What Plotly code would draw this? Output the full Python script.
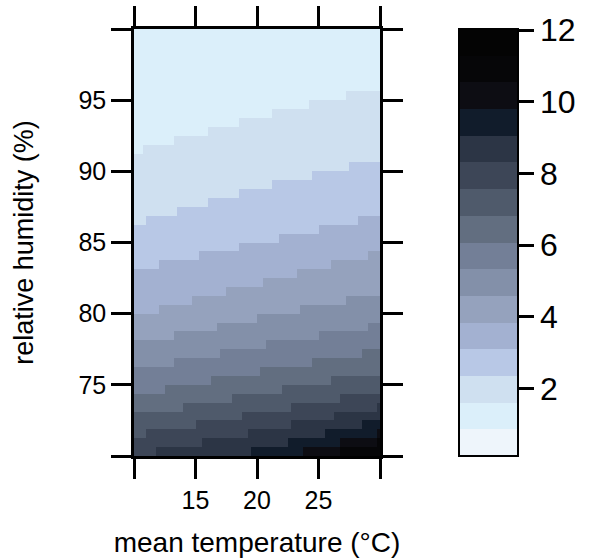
import numpy as np
import plotly.graph_objects as go

# ---- data ----
# colour-key break points (16 equal intervals)
level_breaks = [0.11, 0.855, 1.60, 2.345, 3.09, 3.835, 4.58, 5.325, 6.07,
                6.815, 7.56, 8.305, 9.05, 9.795, 10.54, 11.285, 12.03]
band_colors = ["#eef5fb", "#dbeffa", "#cfe0f0", "#b8c8e6", "#a3b1d1", "#95a2bd",
               "#8390a9", "#737f97", "#626e80", "#4f5a6b", "#3d4657", "#2c3545",
               "#111c2b", "#0d0d13", "#060608", "#040404"]
# relative humidity (%) where each colour boundary (break 2..16) crosses,
# read at three temperatures
temp_knots = [10, 20, 30]
rh_bound_t10 = [100.5, 91.4, 86.3, 83.05, 79.9, 77.8, 76.0, 74.3, 72.8, 71.4, 70.0, 68.4, 67.2, 66.2, 65.2]
rh_bound_t20 = [101.0, 93.8, 88.8, 85.0, 82.1, 79.7, 77.7, 75.9, 74.4, 73.0, 71.7, 70.4, 69.5, 68.9, 67.9]
rh_bound_t30 = [101.5, 95.9, 90.8, 86.9, 84.3, 81.4, 79.2, 77.4, 75.9, 74.6, 73.5, 72.5, 71.6, 71.0, 70.0]

x_tick_vals = [10, 15, 20, 25, 30]
x_tick_text = ["", "15", "20", "25", ""]
y_tick_vals = [70, 75, 80, 85, 90, 95, 100]
y_tick_text = ["", "75", "80", "85", "90", "95", ""]
key_ticks = [2, 4, 6, 8, 10, 12]

# ---- grid of cells ----
t_edges = np.linspace(10, 30, 81)
rh_edges = np.linspace(70, 100, 49)
t_mid = (t_edges[:-1] + t_edges[1:]) / 2
rh_mid = (rh_edges[:-1] + rh_edges[1:]) / 2

bounds = np.array([rh_bound_t10, rh_bound_t20, rh_bound_t30])  # 3 x 15
band_mid = [(level_breaks[i] + level_breaks[i + 1]) / 2 for i in range(16)]
z = np.zeros((len(rh_mid), len(t_mid)))
for ci, t in enumerate(t_mid):
    b_at_t = [np.interp(t, temp_knots, bounds[:, j]) for j in range(15)]
    for ri, rh in enumerate(rh_mid):
        band = sum(1 for b in b_at_t if rh < b)
        z[ri, ci] = band_mid[band]

zmin, zmax = level_breaks[0], level_breaks[-1]
cs = []
for i, c in enumerate(band_colors):
    lo = (level_breaks[i] - zmin) / (zmax - zmin)
    hi = (level_breaks[i + 1] - zmin) / (zmax - zmin)
    cs.append([lo, c])
    cs.append([hi, c])
cs[0][0] = 0.0
cs[-1][0] = 1.0

FONT = "Liberation Sans, Arial, Helvetica, sans-serif"

fig = go.Figure(go.Heatmap(
    x=t_edges, y=rh_edges, z=z, zmin=zmin, zmax=zmax, colorscale=cs,
    colorbar=dict(
        x=(459 - 134) / 246, xanchor="left", y=0.5, yanchor="middle",
        len=1, lenmode="fraction", thickness=59, thicknessmode="pixels",
        outlinewidth=2, outlinecolor="black", xpad=0, ypad=0,
        tickmode="array", tickvals=key_ticks, ticks="outside", ticklen=15,
        tickwidth=2.5, tickcolor="black",
        tickfont=dict(family=FONT, size=32, color="black"),
    ),
    hoverinfo="skip",
))

axis_common = dict(
    showline=True, linewidth=2.5, linecolor="black", mirror="ticks",
    ticks="outside", ticklen=20, tickwidth=2.5, tickcolor="black",
    showgrid=False, zeroline=False, tickmode="array", automargin=False,
    tickfont=dict(family=FONT, size=25, color="black"),
)
fig.update_xaxes(range=[10, 30], tickvals=x_tick_vals, ticktext=x_tick_text,
                 title=dict(text="mean temperature (°C)", font=dict(family=FONT, size=28, color="black"), standoff=20),
                 **axis_common)
fig.update_yaxes(range=[70, 100], tickvals=y_tick_vals, ticktext=y_tick_text,
                 title=dict(text="relative humidity (%)", font=dict(family=FONT, size=27, color="black"), standoff=37),
                 **axis_common)
fig.update_layout(
    width=590, height=558, autosize=False,
    margin=dict(l=134, r=210, t=29, b=102, autoexpand=False),
    paper_bgcolor="white", plot_bgcolor="white",
    font=dict(family=FONT, color="black"),
)
fig.write_html("out.html", config={"displayModeBar": False},
               post_script="document.body.style.margin='0';")
